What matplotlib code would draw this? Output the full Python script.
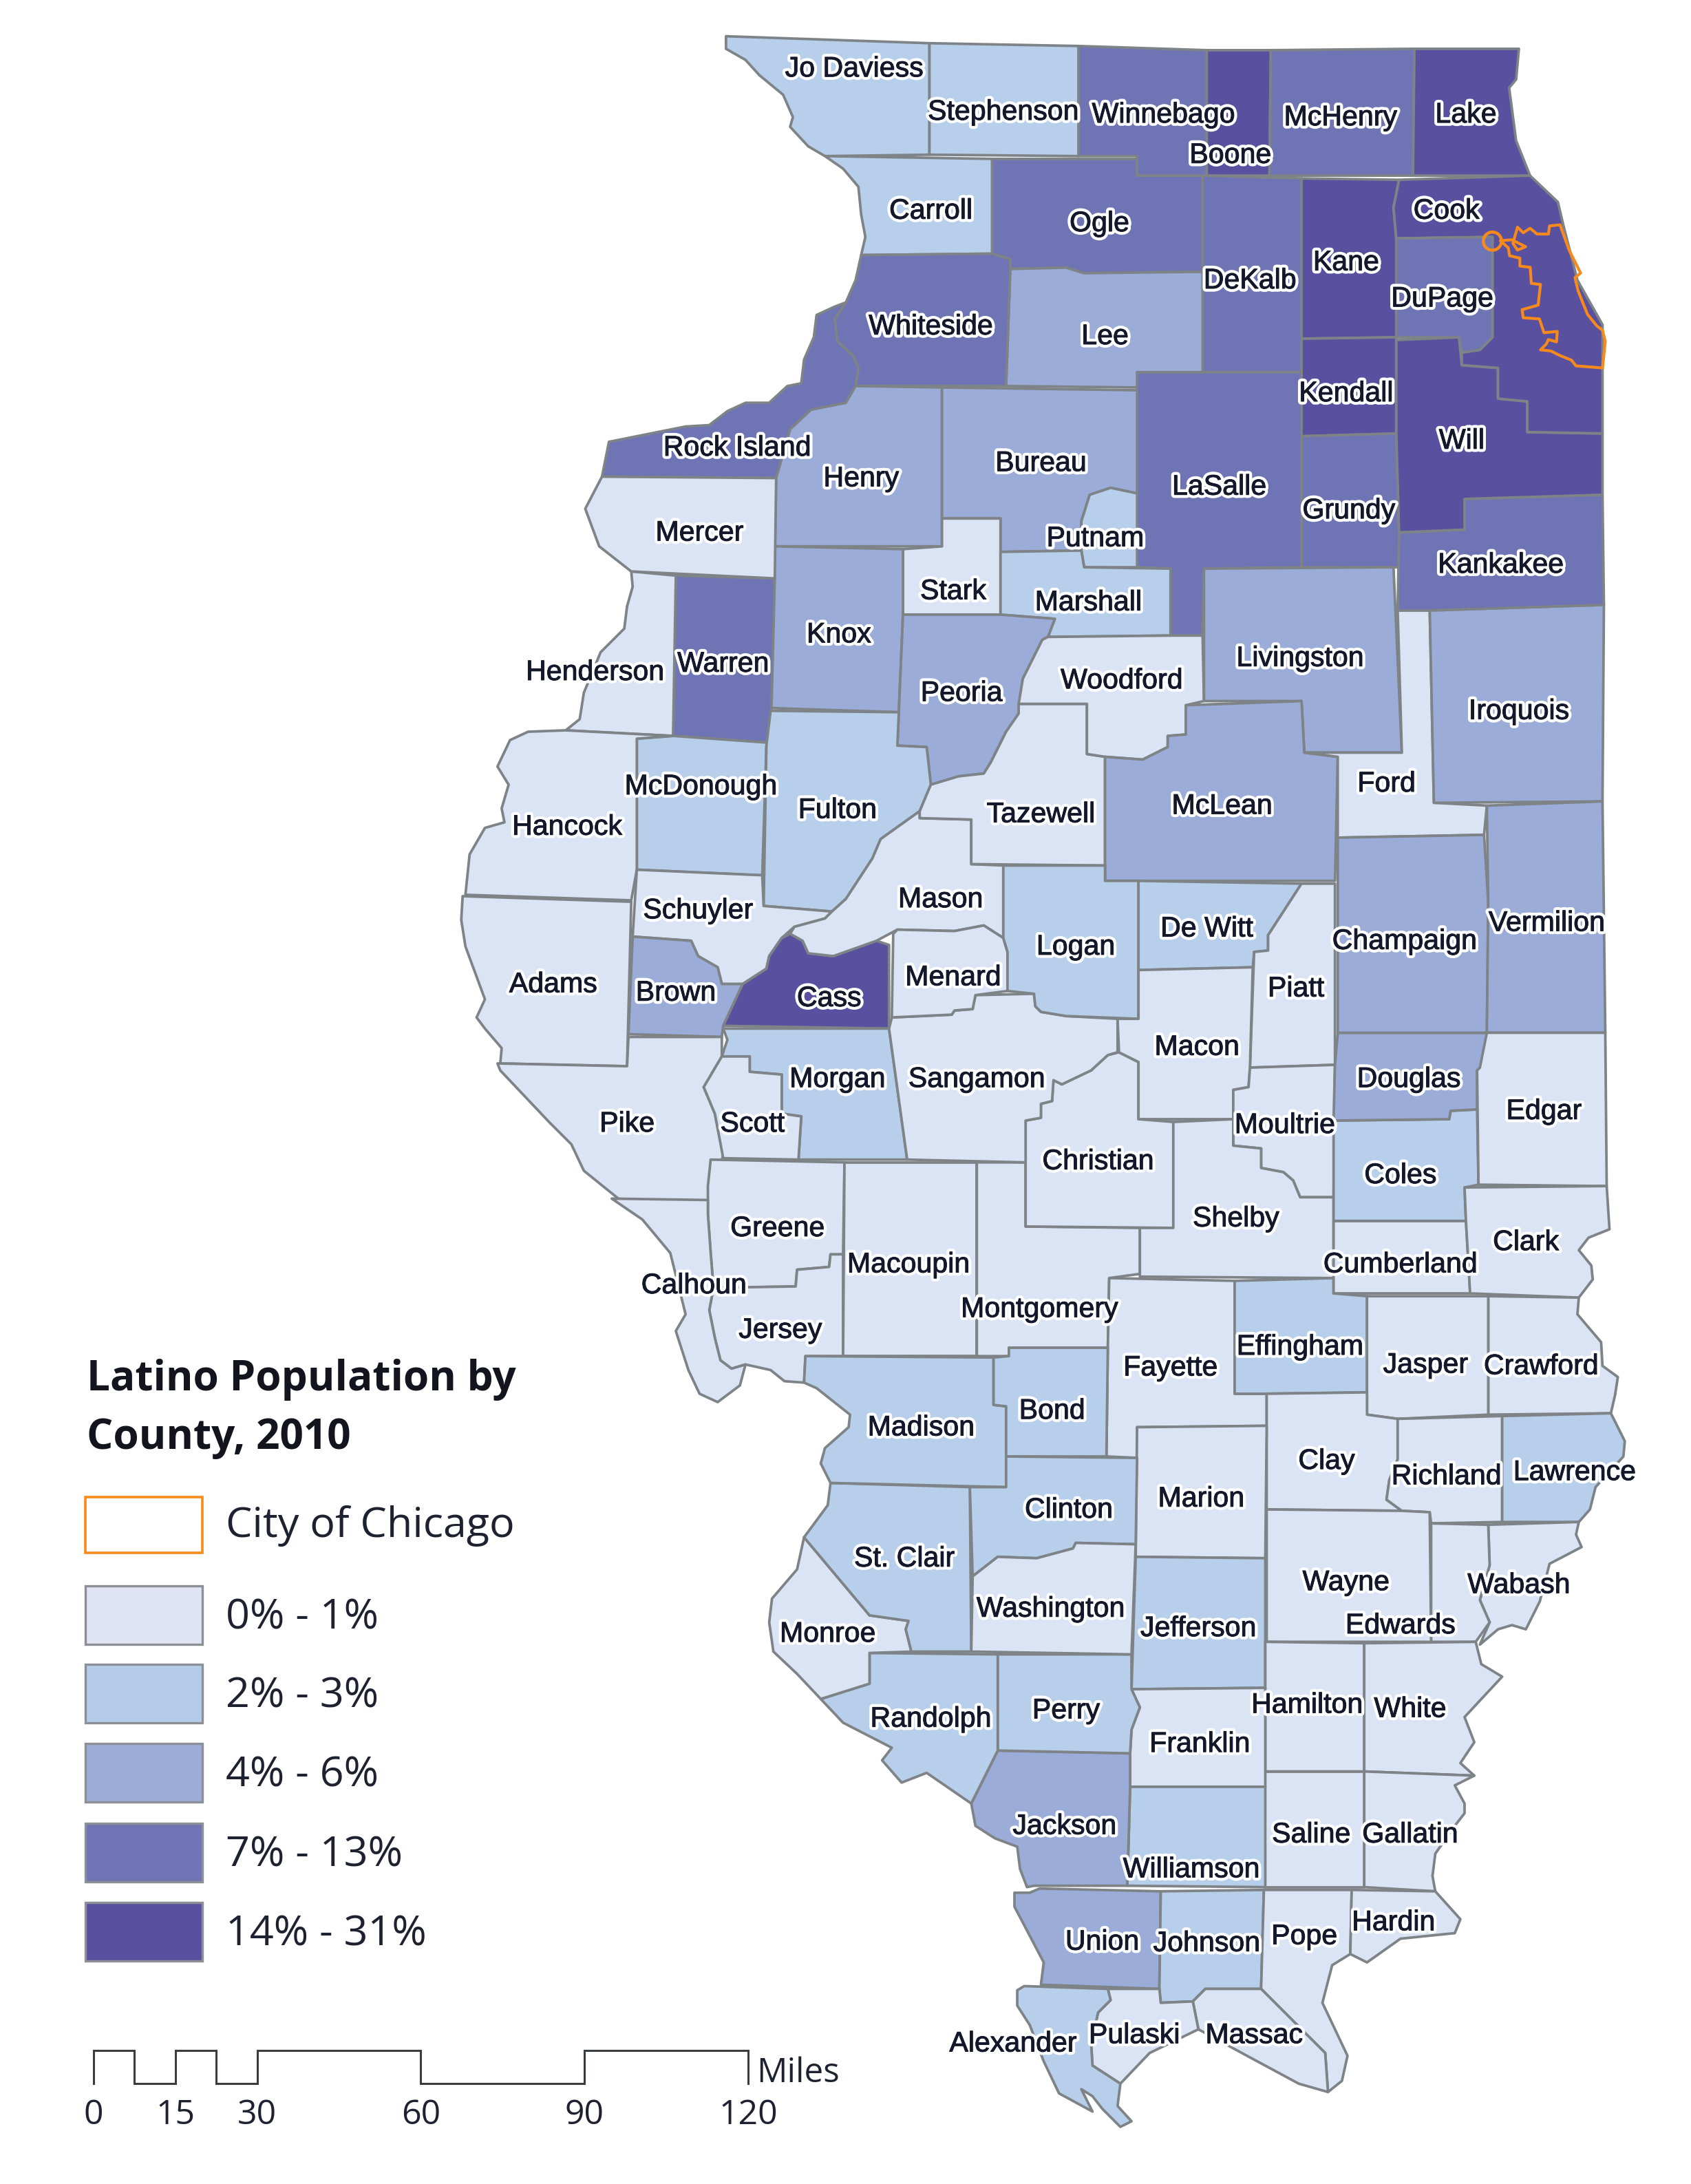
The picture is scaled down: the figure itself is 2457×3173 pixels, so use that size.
import matplotlib
matplotlib.use("Agg")
import matplotlib.pyplot as plt
import matplotlib.patheffects as pe
from matplotlib.patches import Polygon, Rectangle, Circle

# ---- data -------------------------------------------------------------
class_labels = ["0% - 1%", "2% - 3%", "4% - 6%", "7% - 13%", "14% - 31%"]
class_colors = ["#DAE4F4", "#B7CFEB", "#9BACD8", "#6F75B4", "#59509F"]
legend_colors = ["#DFE3F3", "#B5CCE9", "#9BACD8", "#6F75B4", "#59509F"]

# class index (0-4) of the Latino population share of each county
class_by_county = {
 "Jo Daviess":1,"Stephenson":1,"Winnebago":3,"Boone":4,"McHenry":3,"Lake":4,"Carroll":1,"Ogle":3,"DeKalb":3,
 "Kane":4,"Cook":4,"DuPage":3,"Whiteside":3,"Lee":2,"Rock Island":3,"Kendall":4,"Will":4,"Henry":2,"Bureau":2,
 "LaSalle":3,"Grundy":3,"Mercer":0,"Putnam":1,"Kankakee":3,"Stark":0,"Marshall":1,"Knox":2,"Henderson":0,
 "Warren":3,"Peoria":2,"Woodford":0,"Livingston":2,"Iroquois":2,"McDonough":1,"Fulton":1,"Tazewell":0,
 "McLean":2,"Ford":0,"Hancock":0,"Schuyler":0,"Mason":0,"De Witt":1,"Champaign":2,"Vermilion":2,"Logan":1,
 "Menard":0,"Adams":0,"Brown":2,"Cass":4,"Piatt":0,"Macon":0,"Morgan":1,"Sangamon":0,"Douglas":2,"Edgar":0,
 "Pike":0,"Scott":0,"Moultrie":0,"Christian":0,"Coles":1,"Shelby":0,"Greene":0,"Clark":0,"Macoupin":0,
 "Cumberland":0,"Calhoun":0,"Montgomery":0,"Jersey":0,"Effingham":1,"Jasper":0,"Crawford":0,"Fayette":0,
 "Bond":1,"Madison":1,"Clay":0,"Richland":0,"Lawrence":1,"Marion":0,"Clinton":1,"St. Clair":1,"Wayne":0,
 "Wabash":0,"Washington":0,"Jefferson":1,"Edwards":0,"Monroe":0,"Hamilton":0,"White":0,"Perry":1,"Randolph":1,
 "Franklin":0,"Saline":0,"Gallatin":0,"Jackson":2,"Williamson":1,"Hardin":0,"Pope":0,"Union":2,"Johnson":1,
 "Pulaski":0,"Massac":0,"Alexander":1,
}

# county outlines (map units)
outlines = {
 "Jo Daviess":[(521,26),(667,31),(667,111),(592,112),(580,105),(567,91),(569,84),(562,68),(545,54),(535,43),(521,35)],
 "Stephenson":[(667,31),(774,33),(774,112),(667,111)],
 "Winnebago":[(774,33),(866,36),(866,126),(816,126),(816,112),(774,112)],
 "Boone":[(866,36),(912,36),(911,126),(866,126)],
 "McHenry":[(912,36),(1015,35),(1014,126),(911,126)],
 "Lake":[(1015,35),(1090,35),(1088,57),(1083,63),(1088,101),(1098,126),(1014,126)],
 "Carroll":[(592,112),(712,114),(712,182),(618,183),(621,170),(618,154),(616,134),(605,121)],
 "Ogle":[(712,114),(816,114),(816,126),(863,126),(863,195),(778,196),(765,192),(725,193),(725,186),(712,182)],
 "DeKalb":[(863,126),(934,128),(934,267),(863,267)],
 "Kane":[(934,128),(1004,129),(1000,149),(1002,171),(1002,242),(934,243)],
 "Kendall":[(934,243),(1002,242),(1002,311),(934,313)],
 "Grundy":[(934,313),(1002,311),(1004,383),(1004,407),(934,407)],
 "LaSalle":[(816,267),(934,267),(934,407),(864,408),(863,456),(840,456),(840,408),(816,407)],
 "Lee":[(725,193),(765,192),(778,196),(863,195),(863,267),(816,267),(816,278),(722,277)],
 "Whiteside":[(618,183),(712,182),(725,186),(725,193),(722,277),(614,277),(616,264),(612,255),(601,245),(599,229),(607,217),(614,201)],
 "Rock Island":[(432,342),(437,317),(492,306),(509,305),(522,295),(535,289),(552,289),(565,277),(575,275),(577,258),(584,242),(586,226),(599,220),(607,217),(599,229),(601,245),(612,255),(616,264),(614,277),(607,289),(582,294),(567,308),(557,343)],
 "Henry":[(614,277),(676,278),(676,392),(556,392),(557,343),(567,308),(582,294),(607,289)],
 "Bureau":[(676,278),(816,280),(816,354),(797,350),(782,355),(776,374),(776,395),(718,396),(718,372),(676,372)],
 "Putnam":[(782,355),(797,350),(816,354),(816,407),(778,407),(776,395),(776,374)],
 "Stark":[(676,372),(718,372),(718,441),(648,441),(648,394),(676,392)],
 "Marshall":[(718,396),(776,395),(778,407),(840,408),(840,456),(752,457),(757,444),(718,441)],
 "Knox":[(556,392),(648,394),(648,441),(645,511),(553,508)],
 "Peoria":[(648,441),(718,441),(757,444),(752,457),(748,459),(734,487),(731,512),(722,525),(711,547),(706,555),(688,557),(668,563),(665,536),(644,535)],
 "Warren":[(485,413),(556,415),(553,533),(483,528)],
 "Henderson":[(453,410),(485,413),(483,528),(406,524),(416,516),(419,497),(431,468),(448,451),(450,435),(454,421)],
 "Mercer":[(432,342),(557,343),(556,415),(453,410),(430,392),(420,365)],
 "McDonough":[(457,530),(483,528),(553,533),(550,535),(547,628),(457,624)],
 "Fulton":[(553,510),(645,511),(644,535),(665,536),(668,563),(660,582),(632,602),(626,616),(607,645),(597,654),(548,650),(550,535)],
 "Hancock":[(457,530),(457,624),(453,646),(334,642),(337,613),(348,594),(362,590),(360,580),(365,563),(357,550),(366,531),(379,525),(406,524),(483,528)],
 "Adams":[(332,643),(453,647),(450,765),(359,763),(360,752),(348,738),(342,730),(348,717),(334,679),(331,660)],
 "Schuyler":[(457,624),(547,628),(548,650),(597,654),(592,659),(570,665),(561,673),(552,686),(550,695),(533,706),(518,706),(515,694),(501,686),(496,675),(454,672)],
 "Brown":[(454,672),(496,675),(501,686),(515,694),(518,706),(533,706),(519,736),(518,744),(451,742)],
 "Cass":[(567,670),(576,675),(580,684),(598,686),(629,675),(638,678),(638,738),(519,736),(533,706),(550,695),(552,686),(561,673)],
 "Mason":[(660,587),(697,588),(697,620),(720,621),(720,673),(706,664),(685,668),(644,667),(629,675),(598,686),(580,684),(576,675),(567,670),(570,665),(592,659),(597,654),(607,645),(626,616),(632,602),(660,582)],
 "Tazewell":[(668,563),(688,557),(706,555),(711,547),(722,525),(731,512),(731,505),(780,505),(780,541),(793,543),(793,621),(697,620),(697,588),(660,587),(660,582)],
 "Woodford":[(752,457),(840,456),(863,456),(864,503),(851,506),(851,527),(838,528),(838,536),(820,545),(793,543),(780,541),(780,505),(731,505),(734,487),(748,459)],
 "Livingston":[(864,408),(1000,407),(1006,540),(936,540),(934,503),(864,503)],
 "McLean":[(851,506),(934,503),(936,540),(960,543),(958,632),(793,632),(793,543),(820,545),(838,536),(838,528),(851,527)],
 "Ford":[(1003,438),(1026,438),(1029,576),(1067,578),(1065,599),(960,601),(960,543),(936,540),(1006,540)],
 "Iroquois":[(1026,438),(1151,434),(1150,575),(1029,576)],
 "Kankakee":[(1051,358),(1150,355),(1151,434),(1026,438),(1003,438),(1004,382),(1051,380)],
 "Will":[(1002,244),(1047,242),(1049,262),(1075,264),(1075,286),(1096,288),(1096,310),(1150,311),(1150,355),(1051,358),(1051,380),(1004,382),(1002,311)],
 "Cook":[(1004,129),(1098,126),(1118,145),(1122,162),(1132,201),(1150,233),(1150,311),(1096,310),(1096,288),(1075,286),(1075,264),(1049,262),(1049,253),(1062,251),(1071,242),(1071,170),(1002,171),(1000,149)],
 "DuPage":[(1002,171),(1071,170),(1071,242),(1062,251),(1049,253),(1047,242),(1002,242)],
 "Morgan":[(519,738),(638,738),(651,832),(573,832),(575,801),(561,799),(561,771),(538,769),(538,758),(518,758),(522,746)],
 "Pike":[(451,744),(518,744),(518,758),(505,780),(513,799),(519,829),(508,862),(445,861),(419,840),(410,821),(394,805),(359,768),(357,763),(450,765)],
 "Scott":[(518,758),(538,758),(538,769),(561,771),(561,799),(575,801),(573,832),(519,831),(513,799),(505,780)],
 "Greene":[(510,832),(606,834),(605,900),(596,900),(595,909),(572,911),(571,923),(512,924),(510,899),(508,871),(508,851)],
 "Jersey":[(512,924),(571,923),(572,911),(595,909),(596,900),(605,900),(605,973),(578,973),(577,992),(563,991),(553,983),(535,979),(525,982),(517,976),(513,960),(509,940)],
 "Calhoun":[(439,860),(508,861),(508,871),(510,899),(512,924),(509,940),(513,960),(517,976),(525,982),(535,979),(531,994),(515,1006),(502,1000),(494,983),(485,955),(492,943),(481,899),(461,875)],
 "Macoupin":[(606,834),(701,834),(701,973),(605,973)],
 "Montgomery":[(701,834),(736,834),(736,880),(818,881),(818,914),(796,917),(795,967),(724,967),(724,973),(701,973)],
 "Christian":[(736,804),(747,802),(747,792),(755,790),(756,775),(762,778),(783,768),(795,757),(803,755),(817,762),(817,803),(842,805),(842,881),(736,880)],
 "Sangamon":[(640,730),(683,728),(685,725),(698,724),(700,714),(742,713),(743,722),(747,726),(765,729),(802,731),(802,755),(795,757),(783,768),(762,778),(756,775),(755,790),(747,792),(747,802),(736,804),(736,834),(651,832),(638,738)],
 "Menard":[(641,670),(644,667),(685,668),(706,664),(720,673),(723,683),(723,711),(700,714),(698,724),(685,725),(683,728),(640,730)],
 "Logan":[(720,621),(793,621),(793,632),(817,632),(817,731),(765,729),(747,726),(743,722),(742,713),(723,711),(723,683),(720,673)],
 "De Witt":[(817,632),(934,634),(910,671),(910,682),(900,683),(899,694),(817,696)],
 "Piatt":[(934,634),(958,634),(958,764),(897,766),(900,683),(910,682),(910,671)],
 "Macon":[(817,696),(899,694),(897,766),(896,780),(885,782),(885,803),(817,803),(817,762),(803,755),(802,731),(817,731)],
 "Moultrie":[(897,766),(958,764),(957,859),(933,859),(928,847),(921,841),(905,838),(905,824),(885,822),(885,782),(896,780)],
 "Shelby":[(842,805),(885,803),(885,822),(905,824),(905,838),(921,841),(928,847),(933,859),(957,859),(957,917),(818,916),(818,881),(842,881)],
 "Fayette":[(796,917),(886,919),(886,1000),(909,1000),(909,1023),(816,1024),(816,1046),(794,1045),(795,967)],
 "Effingham":[(886,919),(957,917),(957,928),(981,930),(981,999),(909,1000),(886,1000)],
 "Cumberland":[(957,876),(1052,876),(1055,928),(957,928)],
 "Coles":[(957,804),(1040,803),(1041,797),(1060,796),(1061,850),(1051,852),(1052,876),(957,876)],
 "Douglas":[(960,741),(1067,741),(1067,766),(1060,768),(1060,796),(1041,797),(1040,803),(957,804),(958,764)],
 "Champaign":[(960,601),(1065,599),(1068,648),(1067,741),(960,741)],
 "Vermilion":[(1067,578),(1150,575),(1152,741),(1067,741),(1068,648)],
 "Edgar":[(1062,766),(1067,741),(1152,741),(1153,851),(1061,850),(1060,768)],
 "Clark":[(1051,852),(1153,851),(1155,882),(1140,888),(1133,897),(1142,908),(1143,918),(1133,931),(1055,928),(1052,876)],
 "Crawford":[(1068,930),(1133,931),(1132,943),(1149,963),(1150,980),(1161,988),(1159,1001),(1156,1014),(1068,1015)],
 "Jasper":[(981,930),(1068,930),(1068,1015),(1003,1018),(981,1015)],
 "Clay":[(909,1000),(981,999),(981,1015),(1003,1018),(1003,1047),(997,1062),(995,1076),(1006,1084),(909,1083)],
 "Richland":[(1003,1018),(1078,1016),(1078,1092),(1027,1093),(1026,1085),(1006,1084),(995,1076),(997,1062),(1003,1047)],
 "Lawrence":[(1078,1016),(1156,1014),(1166,1034),(1165,1045),(1145,1067),(1141,1083),(1133,1092),(1078,1092)],
 "Wabash":[(1068,1094),(1133,1092),(1131,1101),(1135,1110),(1112,1122),(1105,1149),(1095,1169),(1085,1166),(1075,1169),(1062,1180),(1069,1164),(1062,1148),(1069,1123)],
 "Edwards":[(1027,1093),(1068,1094),(1069,1123),(1062,1148),(1069,1164),(1059,1178),(1027,1178)],
 "Wayne":[(909,1083),(1006,1084),(1026,1085),(1027,1178),(909,1178)],
 "Marion":[(816,1024),(909,1023),(908,1118),(815,1117)],
 "Jefferson":[(815,1117),(908,1118),(908,1211),(812,1212)],
 "Hamilton":[(908,1178),(979,1179),(979,1271),(908,1271)],
 "White":[(979,1179),(1059,1178),(1063,1194),(1078,1203),(1064,1218),(1051,1232),(1058,1250),(1048,1265),(1058,1274),(979,1271)],
 "Gallatin":[(979,1271),(1058,1274),(1044,1281),(1051,1294),(1051,1301),(1044,1310),(1030,1330),(1028,1346),(1030,1357),(979,1354)],
 "Saline":[(908,1271),(979,1271),(979,1354),(908,1354)],
 "Franklin":[(812,1212),(908,1211),(908,1282),(811,1282),(811,1258),(812,1241),(818,1225)],
 "Williamson":[(811,1282),(908,1282),(908,1354),(809,1353)],
 "Jackson":[(716,1256),(811,1258),(811,1282),(809,1353),(742,1353),(737,1354),(732,1341),(730,1325),(714,1319),(700,1310),(697,1294)],
 "Perry":[(716,1187),(812,1187),(812,1212),(818,1225),(812,1241),(811,1258),(716,1256)],
 "Randolph":[(624,1186),(716,1187),(716,1256),(697,1294),(665,1272),(647,1279),(633,1263),(640,1254),(605,1236),(589,1219),(624,1208)],
 "Monroe":[(577,1103),(624,1159),(652,1163),(650,1169),(654,1185),(624,1186),(624,1208),(589,1219),(572,1201),(555,1185),(552,1164),(554,1147),(572,1126)],
 "St. Clair":[(596,1064),(696,1067),(697,1185),(654,1185),(650,1169),(652,1163),(624,1159),(577,1103),(594,1080)],
 "Madison":[(578,973),(713,974),(713,1008),(722,1009),(722,1067),(596,1064),(589,1050),(592,1039),(609,1024),(610,1015),(586,996),(577,992)],
 "Bond":[(724,967),(795,967),(794,1045),(722,1045),(722,1009),(713,1008),(713,974),(724,973)],
 "Clinton":[(722,1045),(816,1046),(815,1108),(772,1107),(770,1111),(744,1118),(716,1117),(698,1131),(696,1067),(722,1067)],
 "Washington":[(698,1131),(716,1117),(744,1118),(770,1111),(772,1107),(815,1108),(812,1187),(697,1185)],
 "Union":[(746,1355),(833,1357),(832,1427),(747,1424),(749,1408),(728,1368),(728,1358),(739,1358)],
 "Johnson":[(833,1357),(907,1356),(905,1427),(865,1427),(856,1436),(833,1437),(832,1427)],
 "Pope":[(907,1356),(970,1356),(969,1402),(956,1410),(949,1437),(967,1475),(963,1493),(953,1501),(951,1473),(905,1427)],
 "Hardin":[(970,1356),(1030,1357),(1048,1377),(1044,1387),(1005,1391),(981,1408),(969,1402)],
 "Massac":[(865,1427),(905,1427),(951,1473),(953,1501),(932,1495),(893,1474),(860,1456),(856,1436)],
 "Pulaski":[(795,1427),(832,1427),(833,1437),(856,1436),(860,1456),(825,1473),(804,1495),(784,1482),(783,1466),(788,1444),(797,1435)],
 "Alexander":[(735,1425),(795,1427),(797,1435),(788,1444),(783,1466),(784,1482),(804,1495),(802,1511),(812,1522),(804,1526),(791,1513),(784,1504),(776,1499),(784,1515),(760,1502),(749,1479),(739,1453),(730,1439),(730,1428)],
}

chicago_outline = [(1150,264),(1131,262.5),(1127.7,258.4),(1119.5,255.1),(1112.9,251.8),(1105.5,251),(1109.6,246.9),(1111.2,243.6),(1117,245.3),(1117.5,237.8),(1108,238.7),(1104.7,228.8),(1093.1,228),(1092.3,222.2),(1103.8,218.9),(1105.5,204.1),(1098.9,203.3),(1098.1,191.8),(1090.7,190.9),(1090.7,185.2),(1083.3,183.5),(1082.4,177.8),(1076.7,172.8),(1084.9,172),(1094.8,177),(1089,179.4),(1085.7,174.5),(1089,163),(1093.1,167),(1098,163.8),(1103,167.9),(1111.2,167.9),(1112,162.1),(1119.5,161.3),(1126,179.4),(1134.3,195.9),(1130.2,199.2),(1132.6,209),(1139.2,225.5),(1145.8,233.7),(1150,237),(1152,245)]
ohare_center = (1071,173)
ohare_radius = 6.5

# label anchor of every county
label_pos = {
 "Jo Daviess":(613,48),"Stephenson":(720,79),"Winnebago":(835,81),"Boone":(883,110),"McHenry":(962,83),"Lake":(1052,81),
 "Carroll":(668,150),"Ogle":(789,159),"Cook":(1038,150),"Kane":(966,187),"DeKalb":(897,200),"DuPage":(1035,213),
 "Whiteside":(668,233),"Lee":(793,240),"Kendall":(966,281),"Will":(1049,315),"Rock Island":(529,320),"Henry":(618,342),
 "Bureau":(747,331),"LaSalle":(875,348),"Grundy":(968,365),"Mercer":(502,381),"Putnam":(786,385),"Kankakee":(1077,404),
 "Stark":(684,423),"Marshall":(781,431),"Knox":(602,454),"Henderson":(427,481),"Warren":(519,475),"Peoria":(690,496),
 "Woodford":(805,487),"Livingston":(933,471),"Iroquois":(1090,509),"McDonough":(503,563),"Fulton":(601,580),
 "Tazewell":(747,583),"McLean":(877,577),"Ford":(995,561),"Hancock":(407,592),"Schuyler":(501,652),"Mason":(675,644),
 "De Witt":(866,665),"Champaign":(1008,674),"Vermilion":(1110,661),"Logan":(772,678),"Menard":(684,700),"Adams":(397,705),
 "Brown":(485,711),"Cass":(595,715),"Piatt":(930,708),"Macon":(859,750),"Morgan":(601,773),"Sangamon":(701,773),
 "Douglas":(1011,773),"Edgar":(1108,796),"Pike":(450,805),"Scott":(540,805),"Moultrie":(922,806),"Christian":(788,832),
 "Coles":(1005,842),"Shelby":(887,873),"Greene":(558,880),"Clark":(1095,890),"Macoupin":(652,906),"Cumberland":(1005,906),
 "Calhoun":(498,921),"Montgomery":(746,938),"Jersey":(560,953),"Effingham":(933,965),"Jasper":(1023,978),"Crawford":(1106,979),
 "Fayette":(840,980),"Bond":(755,1011),"Madison":(661,1023),"Clay":(952,1047),"Richland":(1038,1058),"Lawrence":(1130,1055),
 "Marion":(862,1074),"Clinton":(767,1082),"St. Clair":(649,1117),"Wayne":(966,1134),"Wabash":(1090,1136),"Washington":(754,1153),
 "Jefferson":(860,1167),"Edwards":(1005,1165),"Monroe":(594,1171),"Hamilton":(938,1222),"White":(1012,1225),"Perry":(765,1226),
 "Randolph":(668,1232),"Franklin":(861,1250),"Saline":(941,1315),"Gallatin":(1012,1315),"Jackson":(764,1309),"Williamson":(855,1340),
 "Hardin":(1000,1378),"Pope":(936,1388),"Union":(791,1392),"Johnson":(866,1393),"Pulaski":(814,1459),"Massac":(900,1459),
 "Alexander":(727,1465),
}

title_lines = ["Latino Population by", "County, 2010"]
chicago_label = "City of Chicago"
scale_ticks = [0, 15, 30, 60, 90, 120]
scale_unit = "Miles"

# ---- figure -----------------------------------------------------------
W, H = 1213.5, 1567.0
fig = plt.figure(figsize=(2457/200, 3173/200), dpi=200)
ax = fig.add_axes([0, 0, 1, 1])
ax.set_xlim(0, W)
ax.set_ylim(H, 0)
ax.axis("off")

EDGE = "#7E8388"
for name, pts in outlines.items():
    ax.add_patch(Polygon(pts, closed=True, facecolor=class_colors[class_by_county[name]],
                         edgecolor=EDGE, linewidth=1.35, joinstyle="round", zorder=2))

ORANGE = "#F88A1C"
ax.add_patch(Polygon(chicago_outline, closed=True, fill=False, edgecolor=ORANGE, linewidth=1.5,
                     joinstyle="round", zorder=3))
ax.add_patch(Circle(ohare_center, ohare_radius, fill=False, edgecolor=ORANGE, linewidth=1.6, zorder=3))

DARK = "#14182B"
halo = [pe.withStroke(linewidth=3.4, foreground="white"),
        pe.Stroke(linewidth=0.35, foreground=DARK), pe.Normal()]
for name, (x, y) in label_pos.items():
    ax.text(x, y + 1.5, name, ha="center", va="center", family="Liberation Sans", fontsize=14.8,
            color=DARK, path_effects=halo, zorder=5)

# legend
LF = "Open Sans"
TXT = "#1E2130"
for line, y in zip(title_lines, [990, 1032]):
    ax.text(62, y, line, family=LF, weight="bold", fontsize=21.7, color="#14141E", ha="left", va="center")
sw_x, sw_w, sw_h = 61, 84, 42
ax.add_patch(Rectangle((sw_x, 1074), sw_w, 40, facecolor="white", edgecolor=ORANGE, linewidth=1.3))
ax.text(162, 1095, chicago_label, family=LF, fontsize=22, color=TXT, ha="left", va="center")
for lab, col, y in zip(class_labels, legend_colors, [1138, 1194, 1251, 1308, 1365]):
    ax.add_patch(Rectangle((sw_x, y), sw_w, sw_h, facecolor=col, edgecolor="#8C9096", linewidth=1.2))
    ax.text(162, y + sw_h/2 + 2, lab, family=LF, fontsize=22, color=TXT, ha="left", va="center")

# scale bar
sx = lambda v: 67 + v * (537 - 67) / scale_ticks[-1]
hi, lo = 1471, 1495
edges = [0, 7.5, 15, 22.5, 30, 60, 90, 120]
xs, ys = [sx(0)], [lo]
for i in range(len(edges) - 1):
    level = hi if i % 2 == 0 else lo
    xs += [sx(edges[i]), sx(edges[i + 1])]
    ys += [level, level]
xs.append(sx(120)); ys.append(lo)
ax.plot(xs, ys, color="#3A3C40", lw=1.1, solid_joinstyle="miter")
for t in scale_ticks:
    ax.text(sx(t), 1517.5, str(t), family=LF, fontsize=18, color=TXT, ha="center", va="center")
ax.text(543, 1487.5, scale_unit, family=LF, fontsize=17.8, color=TXT, ha="left", va="center")

fig.savefig("out.png", dpi=200, facecolor="white")
